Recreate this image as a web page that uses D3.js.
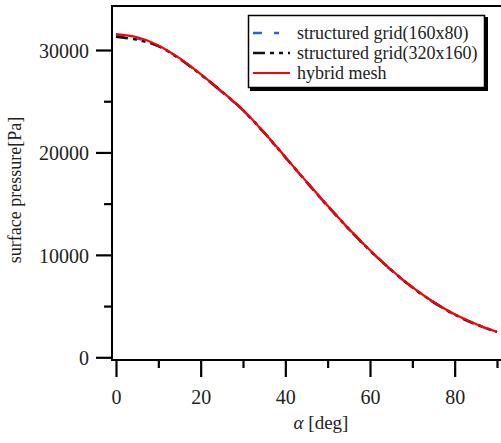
<!DOCTYPE html>
<html>
<head>
<meta charset="utf-8">
<script src="https://cdn.jsdelivr.net/npm/d3@7/dist/d3.min.js"></script>
<style>
html,body{margin:0;padding:0;background:#fff;}
svg{display:block;}
svg text{font-family:"Liberation Serif","Times New Roman",serif !important;}
</style>
</head>
<body>
<svg id="c" width="501" height="443"></svg>
<script>
// ---- data ----
const alphaDeg = [0,5,10,15,20,25,30,35,40,45,50,55,60,65,70,75,80,85,90];
const hybrid   = [31550,31250,30450,29200,27650,25950,24150,21950,19550,17150,14800,12550,10450,8550,6850,5400,4200,3250,2480];
const grid160  = [31450,31120,30400,29150,27600,25900,24100,21900,19500,17100,14750,12500,10400,8500,6800,5350,4150,3200,2430];
const grid320  = [31300,31000,30380,29150,27620,25930,24130,21930,19530,17130,14780,12530,10430,8530,6830,5380,4180,3230,2460];
const seriesNames = ["structured grid(160x80)","structured grid(320x160)","hybrid mesh"];
const yMajorTicks = [0,10000,20000,30000];
const yMinorTicks = [5000,15000,25000];
const xMajorTicks = [0,20,40,60,80];
const xMinorTicks = [10,30,50,70,90];

const svg = d3.select("#c");
const x = d3.scaleLinear().domain([0,90]).range([116,497]);
const y = d3.scaleLinear().domain([0,30000]).range([357.3,50]);

const axisY = 112, axisX = 360, topY = 6;

// frame lines
svg.append("line").attr("x1",axisY).attr("x2",axisY).attr("y1",topY).attr("y2",axisX+1)
  .attr("stroke","#000").attr("stroke-width",2);
svg.append("line").attr("x1",axisY-1).attr("x2",501).attr("y1",topY).attr("y2",topY)
  .attr("stroke","#000").attr("stroke-width",2);
svg.append("line").attr("x1",axisY-1).attr("x2",501).attr("y1",axisX).attr("y2",axisX)
  .attr("stroke","#000").attr("stroke-width",2);

// y axis
const gy = svg.append("g").attr("transform",`translate(${axisY},0)`)
  .call(d3.axisLeft(y).tickValues(yMajorTicks).tickSize(16).tickPadding(7).tickFormat(d3.format("d")));
gy.attr("font-family",null);
gy.select(".domain").remove();
gy.selectAll(".tick line").attr("stroke-width",2.2);
gy.selectAll(".tick text").attr("font-size",20).attr("fill","#222").attr("dy","0.36em");
const gy2 = svg.append("g").attr("transform",`translate(${axisY},0)`)
  .call(d3.axisLeft(y).tickValues(yMinorTicks).tickSize(8).tickFormat(""));
gy2.select(".domain").remove();
gy2.selectAll(".tick line").attr("stroke-width",2.2);

// x axis
const gx = svg.append("g").attr("transform",`translate(0,${axisX})`)
  .call(d3.axisBottom(x).tickValues(xMajorTicks).tickSize(17).tickPadding(13).tickFormat(d3.format("d")));
gx.attr("font-family",null);
gx.select(".domain").remove();
gx.selectAll(".tick line").attr("stroke-width",2.2);
gx.selectAll(".tick text").attr("font-size",20).attr("fill","#222");
const gx2 = svg.append("g").attr("transform",`translate(0,${axisX})`)
  .call(d3.axisBottom(x).tickValues(xMinorTicks).tickSize(8).tickFormat(""));
gx2.select(".domain").remove();
gx2.selectAll(".tick line").attr("stroke-width",2.2);

// axis titles
const xt = svg.append("text").attr("x",321).attr("y",429).attr("text-anchor","middle")
  .attr("font-size",19).attr("fill","#222");
xt.append("tspan").attr("font-style","italic").text("α");
xt.append("tspan").text(" [deg]");
svg.append("text").attr("transform","translate(21,190) rotate(-90)").attr("text-anchor","middle")
  .attr("font-size",18).attr("fill","#222").text("surface pressure[Pa]");

// lines
const line = d3.line().x((d,i)=>x(alphaDeg[i])).y(d=>y(d)).curve(d3.curveCatmullRom);
const styles = [
  {data:grid160, color:"#2f5fe0", dash:"9,12,5,12", w:2.4},
  {data:grid320, color:"#111", dash:"12,5,4,5,4,5", w:2.6},
  {data:hybrid, color:"#ff0000", dash:null, w:2.2}
];
styles.forEach(s=>{
  svg.append("path").datum(s.data).attr("d",line).attr("fill","none")
    .attr("stroke",s.color).attr("stroke-width",s.w)
    .attr("stroke-dasharray",s.dash);
});

// legend
const lg = svg.append("g");
lg.append("rect").attr("x",250).attr("y",17).attr("width",238).attr("height",74).attr("fill","#000");
lg.append("rect").attr("x",248.5).attr("y",15.5).attr("width",236).attr("height",72)
  .attr("fill","#fff").attr("stroke","#000").attr("stroke-width",1.5);
const rowsY = [33,53,73];
styles.forEach((s,i)=>{
  lg.append("line").attr("x1",253).attr("x2",290).attr("y1",rowsY[i]).attr("y2",rowsY[i])
    .attr("stroke",s.color).attr("stroke-width",s.w).attr("stroke-dasharray",s.dash);
  lg.append("text").attr("x",297).attr("y",rowsY[i]+6).attr("font-size",18).attr("fill","#222")
    .text(seriesNames[i]);
});
</script>
</body>
</html>
